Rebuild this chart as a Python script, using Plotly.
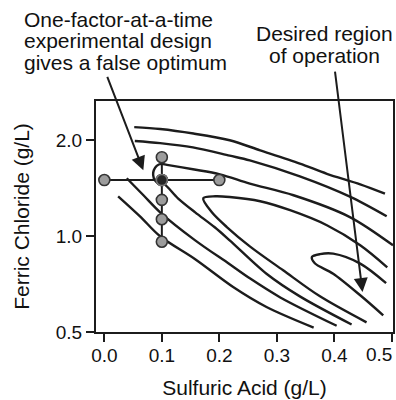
import numpy as np
import plotly.graph_objects as go

# ---------------- data ----------------
# Contour lines of the response surface (x = sulfuric acid g/L, y = ferric chloride g/L)
contour_a_x = [0.052, 0.097, 0.155, 0.218, 0.271, 0.340, 0.387, 0.445, 0.488]
contour_a_y = [2.20, 2.17, 2.10, 2.00, 1.86, 1.69, 1.57, 1.455, 1.36]

contour_b_x = [0.053, 0.097, 0.154, 0.218, 0.253, 0.340, 0.427, 0.491]
contour_b_y = [1.99, 1.96, 1.90, 1.79, 1.73, 1.54, 1.33, 1.154]

# ridge contour: from right edge, small loop at the false optimum, then down-right
contour_c_x = [0.502, 0.427, 0.329, 0.253, 0.201, 0.154, 0.109, 0.099, 0.091, 0.086,
               0.085, 0.088, 0.095, 0.104, 0.128, 0.158, 0.192, 0.218, 0.282, 0.340, 0.430]
contour_c_y = [0.936, 1.148, 1.344, 1.462, 1.564, 1.622, 1.675, 1.687, 1.663, 1.610,
               1.553, 1.497, 1.460, 1.455, 1.315, 1.188, 1.066, 0.970, 0.762, 0.647, 0.528]

contour_d_x = [0.456, 0.375, 0.311, 0.253, 0.213, 0.187, 0.172, 0.193, 0.218, 0.271,
               0.323, 0.387, 0.445, 0.492]
contour_d_y = [0.536, 0.647, 0.781, 0.929, 1.068, 1.188, 1.315, 1.334, 1.327, 1.287,
               1.206, 1.082, 0.936, 0.798]

contour_e_x = [0.485, 0.445, 0.398, 0.366, 0.361, 0.375, 0.398, 0.445, 0.490]
contour_e_y = [0.564, 0.652, 0.762, 0.822, 0.860, 0.878, 0.881, 0.820, 0.712]

contour_f_x = [0.039, 0.068, 0.097, 0.158, 0.218, 0.253, 0.306, 0.404]
contour_f_y = [1.52, 1.344, 1.188, 0.970, 0.816, 0.737, 0.642, 0.523]

contour_g_x = [0.024, 0.062, 0.097, 0.158, 0.224, 0.282, 0.364]
contour_g_y = [1.334, 1.154, 0.999, 0.846, 0.692, 0.599, 0.516]

# one-factor-at-a-time experiments
acid_scan_x = [0.0, 0.1, 0.2]
acid_scan_y = [1.5, 1.5, 1.5]
chloride_scan_x = [0.1, 0.1, 0.1, 0.1, 0.1]
chloride_scan_y = [1.77, 1.5, 1.30, 1.13, 0.96]
false_opt_x = [0.1]
false_opt_y = [1.5]

x_ticks = [0.0, 0.1, 0.2, 0.3, 0.4, 0.5]
x_tick_text = ["0.0", "0.1", "0.2", "0.3", "0.4", "0.5"]
y_ticks = [0.5, 1.0, 2.0]
y_tick_text = ["0.5", "1.0", "2.0"]

# arrow targets (data) for the two callouts
arrow1_x, arrow1_y = 0.0678, 1.61
arrow2_x, arrow2_y = 0.449, 0.668

# ---------------- figure ----------------
FONT = "Liberation Sans, Arial, Helvetica, sans-serif"
INK = "#1c1c1c"

fig = go.Figure()
for cx, cy in [(contour_a_x, contour_a_y), (contour_b_x, contour_b_y),
               (contour_c_x, contour_c_y), (contour_d_x, contour_d_y),
               (contour_e_x, contour_e_y), (contour_f_x, contour_f_y),
               (contour_g_x, contour_g_y)]:
    fig.add_trace(go.Scatter(x=cx, y=cy, mode="lines",
                             line=dict(color=INK, width=2.4, shape="spline", smoothing=0.9),
                             hoverinfo="skip", showlegend=False))

fig.add_trace(go.Scatter(x=acid_scan_x, y=acid_scan_y, mode="lines+markers",
                         line=dict(color=INK, width=2),
                         marker=dict(size=11, color="#9c9c9c", line=dict(color="#333333", width=1.6)),
                         showlegend=False))
fig.add_trace(go.Scatter(x=chloride_scan_x, y=chloride_scan_y, mode="lines+markers",
                         line=dict(color=INK, width=2),
                         marker=dict(size=11, color="#9c9c9c", line=dict(color="#333333", width=1.6)),
                         showlegend=False))
fig.add_trace(go.Scatter(x=false_opt_x, y=false_opt_y, mode="markers",
                         marker=dict(size=11, color="#262626", line=dict(color="#777777", width=1.6)),
                         showlegend=False))

W, H = 396, 400
L, R, T, B = 96, 3, 101, 68


def px_x(p):
    return (p - L) / (W - L - R)


def px_y(p):
    return (H - B - p) / (H - T - B)


ann_font = dict(family=FONT, size=21, color="#111111")
left_lines = ["One-factor-at-a-time", "experimental design", "gives a false optimum"]
left_centers = [19.4, 40.7, 62.0]
for txt, cyp in zip(left_lines, left_centers):
    fig.add_annotation(text=txt, xref="paper", yref="paper", x=px_x(22), y=px_y(cyp),
                       xanchor="left", yanchor="middle", showarrow=False, font=ann_font)
right_lines = ["Desired region", "of operation"]
right_centers = [33.4, 55.0]
for txt, cyp in zip(right_lines, right_centers):
    fig.add_annotation(text=txt, xref="paper", yref="paper", x=px_x(324), y=px_y(cyp),
                       xanchor="center", yanchor="middle", showarrow=False, font=ann_font)

fig.add_annotation(x=arrow1_x, y=np.log10(arrow1_y), xref="x", yref="y", text="",
                   showarrow=True, arrowhead=2, arrowsize=1.4, arrowwidth=2, arrowcolor=INK,
                   ax=-36.6, ay=-95)
fig.add_annotation(x=arrow2_x, y=np.log10(arrow2_y), xref="x", yref="y", text="",
                   showarrow=True, arrowhead=2, arrowsize=1.4, arrowwidth=2, arrowcolor=INK,
                   ax=-27.7, ay=-221.7)

# the last x tick label sits against the page edge; draw it nudged left as in the reference
shown_x_text = x_tick_text[:-1] + [""]
fig.add_annotation(text=x_tick_text[-1], xref="paper", yref="paper", x=px_x(394), y=px_y(354.5),
                   xanchor="right", yanchor="middle", showarrow=False,
                   font=dict(family=FONT, size=19, color="#111111"))

axis_common = dict(showline=True, linecolor=INK, linewidth=2, mirror=True,
                   ticks="outside", ticklen=8, tickwidth=2, tickcolor=INK,
                   showgrid=False, zeroline=False, automargin=False,
                   tickfont=dict(family=FONT, size=19, color="#111111"))

fig.update_xaxes(range=[-0.0145, 0.502], tickvals=x_ticks, ticktext=shown_x_text,
                 ticklabelstandoff=-3,
                 title=dict(text="Sulfuric Acid (g/L)", standoff=16,
                            font=dict(family=FONT, size=21, color="#111111")),
                 **axis_common)
fig.update_yaxes(type="log", range=[np.log10(0.5), 0.4244], tickvals=y_ticks, ticktext=y_tick_text,
                 title=dict(text="Ferric Chloride (g/L)", standoff=20,
                            font=dict(family=FONT, size=21, color="#111111")),
                 **axis_common)

fig.update_layout(width=W, height=H, margin=dict(l=L, r=R, t=T, b=B, pad=0),
                  plot_bgcolor="white", paper_bgcolor="white", showlegend=False)

fig.write_html("out.html")
